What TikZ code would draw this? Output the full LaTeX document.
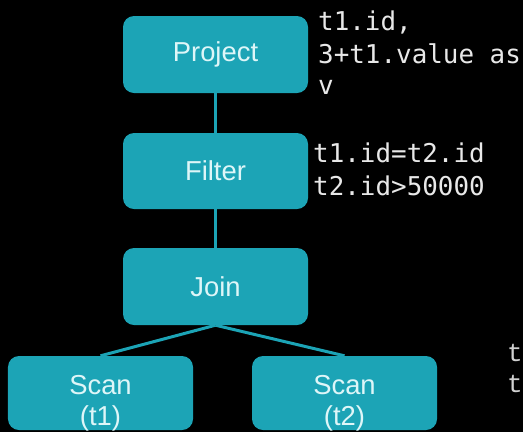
\documentclass[tikz,border=0pt]{standalone}
\usepackage{fontspec}
\setmainfont{Liberation Sans}
\newfontfamily\codefont{DejaVu Sans Mono}
\newfontfamily\plainmono{Liberation Mono}
\definecolor{opteal}{RGB}{28,164,182}
\definecolor{optext}{RGB}{222,246,248}
\definecolor{codegray}{RGB}{232,232,232}
\begin{document}
\begin{tikzpicture}[x=1bp,y=-1bp,
  opbox/.style={draw=none, fill=opteal, rounded corners=11bp, inner sep=0pt,
    minimum width=185bp, text=optext, font=\fontsize{27.5}{31}\selectfont, align=center},
  optext/.style={text=optext, font=\fontsize{27.5}{31}\selectfont, align=center, inner sep=0pt},
  edge/.style={draw=opteal, line width=3bp},
  code/.style={anchor=base west, inner sep=0pt, text=codegray,
    font=\codefont\fontsize{26}{32}\selectfont},
  faint/.style={anchor=base west, inner sep=0pt, text=codegray!90!black,
    font=\plainmono\fontsize{26}{31}\selectfont}]
  \useasboundingbox (0,0) rectangle (523,432);
  \fill[black] (0,0) rectangle (523,432);
  \clip (0,0) rectangle (523,432);

  % operator tree
  \node[opbox, minimum height=77bp] (project) at (215.5,54.5) {Project};
  \node[opbox, minimum height=76bp] (filter) at (215.5,171) {Filter};
  \node[opbox, minimum height=77bp] (join) at (215.5,286.5) {Join};
  \node[opbox, minimum height=74bp] (scanA) at (100.5,393) {};
  \node[opbox, minimum height=74bp] (scanB) at (344.5,393) {};
  \node[optext] (scanAtext) at (100.5,403) {Scan\\(t1)};
  \node[optext] (scanBtext) at (344.5,403) {Scan\\(t2)};

  % connectors
  \draw[edge] (project.south) -- (filter.north);
  \draw[edge] (filter.south) -- (join.north);
  \draw[edge] (join.south) -- (scanA.north);
  \draw[edge] (join.south) -- (scanB.north);

  % annotations
  \node[code] (projA) at (318,30) {t1.id,};
  \node[code] (projB) at (318,63) {3+t1.value as};
  \node[code] (projC) at (318,94) {v};
  \node[code] (filtA) at (313,162) {t1.id=t2.id};
  \node[code] (filtB) at (313,195) {t2.id>50000};
  \node[faint] (scanNoteA) at (507,361) {t};
  \node[faint] (scanNoteB) at (507,392) {t};
\end{tikzpicture}
\end{document}
